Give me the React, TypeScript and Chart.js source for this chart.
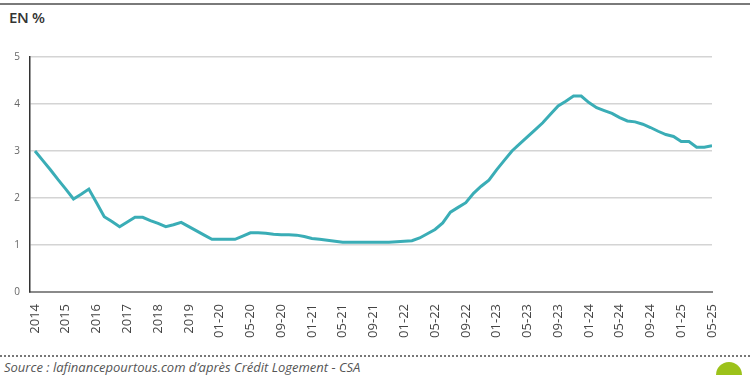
import React, { useEffect, useRef } from "react";
import { Chart, registerables } from "chart.js";

Chart.register(...registerables);

const tickLabels = [
  "2014", "2015", "2016", "2017", "2018", "2019",
  "01-20", "05-20", "09-20", "01-21", "05-21", "09-21",
  "01-22", "05-22", "09-22", "01-23", "05-23", "09-23",
  "01-24", "05-24", "09-24", "01-25", "05-25",
];

// Quarterly points, 2014 Q1 to 2019 Q4
const quarterlyRates = [
  3.0, 2.8, 2.6, 2.39, 2.19, 1.98, 2.08, 2.19,
  1.9, 1.6, 1.5, 1.39, 1.49, 1.59, 1.59, 1.52,
  1.46, 1.39, 1.43, 1.48, 1.39, 1.3, 1.21, 1.12,
];

// Monthly points, 01-20 to 05-25
const monthlyRates = [
  1.12, 1.12, 1.12, 1.19, 1.26, 1.26, 1.25, 1.23,
  1.22, 1.22, 1.21, 1.18, 1.14, 1.12, 1.1, 1.08,
  1.06, 1.06, 1.06, 1.06, 1.06, 1.06, 1.06, 1.07,
  1.08, 1.09, 1.15, 1.24, 1.33, 1.47, 1.7, 1.8,
  1.9, 2.1, 2.25, 2.38, 2.6, 2.8, 3.0, 3.15,
  3.3, 3.45, 3.6, 3.78, 3.96, 4.06, 4.17, 4.17,
  4.03, 3.92, 3.86, 3.8, 3.71, 3.64, 3.62, 3.57,
  3.5, 3.42, 3.35, 3.31, 3.2, 3.2, 3.08, 3.08,
  3.11,
];

const yTicks = [0, 1, 2, 3, 4, 5];

const FONT = "'Open Sans', 'DejaVu Sans', sans-serif";

export default function App() {
  const canvasRef = useRef<HTMLCanvasElement | null>(null);

  useEffect(() => {
    if (!canvasRef.current) return;
    const values = [...quarterlyRates, ...monthlyRates];
    const points = values.map((v, i) => ({ x: i, y: v }));
    const chart = new Chart(canvasRef.current, {
      type: "line",
      data: {
        datasets: [
          {
            data: points,
            borderColor: "#3aadb6",
            borderWidth: 3,
            pointRadius: 0,
            tension: 0,
            fill: false,
          },
        ],
      },
      options: {
        animation: false,
        responsive: false,
        maintainAspectRatio: false,
        layout: { padding: { top: 57, right: 38, left: 0, bottom: 0 } },
        plugins: { legend: { display: false }, tooltip: { enabled: false } },
        scales: {
          x: {
            type: "linear",
            min: -0.65,
            max: 88,
            afterBuildTicks: (scale: any) => {
              scale.ticks = tickLabels.map((_, k) => ({ value: k * 4 }));
            },
            afterFit: (scale: any) => {
              scale.height = 53;
            },
            grid: { display: false },
            border: { color: "#8a8a8a", width: 2 },
            ticks: {
              autoSkip: false,
              maxRotation: 90,
              minRotation: 90,
              padding: 4,
              color: "#444",
              font: { family: FONT, size: 13 },
              callback: (value: any) => tickLabels[Math.round(Number(value) / 4)] ?? "",
            },
          },
          y: {
            min: yTicks[0],
            max: yTicks[yTicks.length - 1],
            afterBuildTicks: (scale: any) => {
              scale.ticks = yTicks.map((v) => ({ value: v }));
            },
            afterFit: (scale: any) => {
              scale.width = 30;
            },
            grid: { color: "#d4d4d4", lineWidth: 1.5, drawTicks: false },
            border: { color: "#333", width: 1.5 },
            ticks: {
              padding: 10,
              color: "#666",
              font: { family: FONT, size: 10 },
            },
          },
        },
      },
    });
    return () => chart.destroy();
  }, []);

  return (
    <div
      style={{
        position: "fixed",
        left: 0,
        top: 0,
        width: 750,
        height: 375,
        background: "#fff",
        overflow: "hidden",
        fontFamily: FONT,
      }}
    >
      <div style={{ position: "absolute", left: 0, top: 3, width: 750, height: 2, background: "#7a7a7a" }} />
      <div
        style={{
          position: "absolute",
          left: 9,
          top: 7,
          fontSize: 15,
          fontWeight: 600,
          color: "#333",
          letterSpacing: -0.3,
        }}
      >
        EN %
      </div>
      <canvas ref={canvasRef} width={750} height={345} style={{ position: "absolute", left: 0, top: 0, width: 750, height: 345 }} />
      <div
        style={{
          position: "absolute",
          left: 0,
          top: 355,
          width: 750,
          height: 0,
          borderTop: "2px dotted #777",
        }}
      />
      <div
        style={{
          position: "absolute",
          left: 4,
          top: 358,
          fontSize: 13,
          fontStyle: "italic",
          color: "#555",
          whiteSpace: "nowrap",
        }}
      >
        Source : lafinancepourtous.com d’après Crédit Logement - CSA
      </div>
      <div
        style={{
          position: "absolute",
          left: 716,
          top: 362,
          width: 26,
          height: 26,
          borderRadius: "50%",
          background: "#9cc21a",
        }}
      />
    </div>
  );
}
